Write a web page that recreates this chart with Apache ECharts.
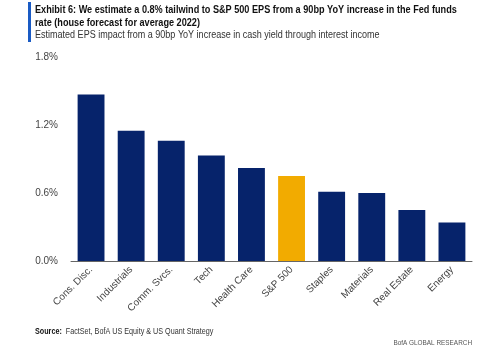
<!DOCTYPE html>
<html>
<head>
<meta charset="utf-8">
<script src="https://cdn.jsdelivr.net/npm/echarts@6/dist/echarts.min.js"></script>
<style>
  html, body { margin: 0; padding: 0; background: #fff; }
  #chart { width: 500px; height: 353px; }
</style>
</head>
<body>
<div id="chart"></div>
<script>
var categories = ['Cons. Disc.', 'Industrials', 'Comm. Svcs.', 'Tech', 'Health Care',
  'S&P 500', 'Staples', 'Materials', 'Real Estate', 'Energy']
var epsImpact = [1.47, 1.15, 1.06, 0.93, 0.82, 0.75, 0.61, 0.60, 0.45, 0.34]
var highlight = 'S&P 500'
var yTicks = [0, 0.6, 1.2, 1.8]

var font = '"Liberation Sans", Arial, sans-serif'
var navy = '#06236b'
var gold = '#f2ab00'

var chart = echarts.init(document.getElementById('chart'))

// the original uses a condensed face, so the header texts are squeezed horizontally
var option = {
  backgroundColor: '#fff',
  animation: false,
  graphic: [
    { type: 'rect', shape: { x: 28, y: 2, width: 3, height: 40 }, style: { fill: '#1a5bc4' } },
    {
      type: 'text', x: 35, y: 4, scaleX: 0.83,
      style: {
        text: 'Exhibit 6: We estimate a 0.8% tailwind to S&P 500 EPS from a 90bp YoY increase in the Fed funds\nrate (house forecast for average 2022)',
        fontFamily: font, fontSize: 11, fontWeight: 'bold', fill: '#111',
        lineHeight: 12.5, verticalAlign: 'top'
      }
    },
    {
      type: 'text', x: 35, y: 29.5, scaleX: 0.82,
      style: {
        text: 'Estimated EPS impact from a 90bp YoY increase in cash yield through interest income',
        fontFamily: font, fontSize: 11, fill: '#333', verticalAlign: 'top'
      }
    },
    {
      type: 'text', x: 35, y: 327, scaleX: 0.8,
      style: {
        text: '{b|Source:}  FactSet, BofA US Equity & US Quant Strategy',
        fontFamily: font, fontSize: 9, fill: '#333', verticalAlign: 'top',
        rich: { b: { fontWeight: 'bold', fontFamily: font, fontSize: 9, fill: '#111' } }
      }
    },
    {
      type: 'text', x: 472, y: 339, scaleX: 0.8,
      style: {
        text: 'BofA GLOBAL RESEARCH', fontFamily: font, fontSize: 8, fill: '#555',
        align: 'right', verticalAlign: 'top'
      }
    }
  ],
  grid: { left: 71, right: 28, top: 57, bottom: 92 },
  xAxis: {
    type: 'category',
    data: categories,
    axisLine: { lineStyle: { color: '#666', width: 1 } },
    axisTick: { show: false },
    axisLabel: {
      interval: 0, rotate: 45, margin: 7,
      fontFamily: font, fontSize: 10, color: '#444'
    }
  },
  yAxis: {
    type: 'value',
    min: yTicks[0],
    max: yTicks[yTicks.length - 1],
    interval: 0.6,
    splitLine: { show: false },
    axisLine: { show: false },
    axisTick: { show: false },
    axisLabel: {
      margin: 13, fontFamily: font, fontSize: 10, color: '#444',
      formatter: function (v) { return v.toFixed(1) + '%' }
    }
  },
  series: [{
    type: 'bar',
    barWidth: '67%',
    data: epsImpact.map(function (v, i) {
      return { value: v, itemStyle: { color: categories[i] === highlight ? gold : navy } }
    })
  }]
}

chart.setOption(option)
</script>
</body>
</html>
